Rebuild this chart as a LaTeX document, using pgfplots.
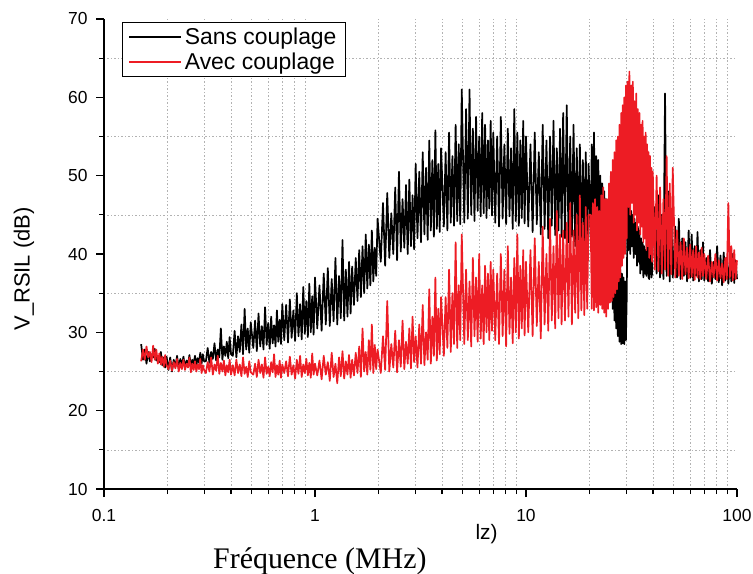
\documentclass[border=0pt]{standalone}
\usepackage{fontspec}
\setmainfont{Liberation Sans}
\newfontfamily\seriffont{Liberation Serif}
\usepackage{pgfplots}
\usepackage{pgfplotstable}
\pgfplotsset{compat=1.18}
\definecolor{myred}{HTML}{ED1C24}
\pgfplotstableread{
x b r
0.150 28.5 26.3
0.153 26.5 27.8
0.156 27.8 26.5
0.159 26.0 28.2
0.162 27.5 26.8
0.165 26.3 27.5
0.168 27.2 26.2
0.171 26.8 28.3
0.174 27.9 26.5
0.177 26.4 27.8
0.180 27.0 26.0
0.183 26.2 27.3
0.186 27.5 25.9
0.189 25.8 26.9
0.192 26.8 25.6
0.195 25.5 27.1
0.198 26.9 25.8
0.202 25.2 25.3
0.206 26.8 26.4
0.210 25.0 25.1
0.214 26.5 26.2
0.218 25.6 25.4
0.222 27.0 26.6
0.226 25.4 25.0
0.230 26.6 26.1
0.234 25.8 25.3
0.238 26.9 26.5
0.242 25.5 25.2
0.246 26.4 26.0
0.250 25.9 25.5
0.254 27.1 26.8
0.258 25.7 24.9
0.262 26.5 26.0
0.266 26.0 25.2
0.270 27.0 26.3
0.274 25.8 25.0
0.278 26.7 25.9
0.282 26.1 25.3
0.286 27.4 26.6
0.290 26.0 24.8
0.294 27.2 25.8
0.298 26.3 25.2
0.304 26.3 24.8
0.310 28.0 26.2
0.316 26.1 25.0
0.322 27.5 26.8
0.328 26.6 24.6
0.334 28.6 25.9
0.340 26.4 25.1
0.346 27.8 27.0
0.352 26.8 24.7
0.358 30.5 26.1
0.364 26.5 25.0
0.370 28.2 26.4
0.376 27.0 24.5
0.382 28.8 25.8
0.388 26.7 24.9
0.394 29.4 26.5
0.400 27.2 24.6
0.408 27.0 25.8
0.416 30.2 24.5
0.424 26.8 26.5
0.432 29.5 24.8
0.440 27.5 25.9
0.448 31.0 24.4
0.456 27.2 26.8
0.464 33.0 24.7
0.472 27.8 25.6
0.480 30.5 24.3
0.488 27.4 26.3
0.496 31.3 24.9
0.51 28.0 24.6
0.52 31.5 26.0
0.53 27.6 24.3
0.54 32.4 26.5
0.55 28.2 24.8
0.56 30.8 25.9
0.57 27.8 24.2
0.58 33.2 26.8
0.59 28.4 24.7
0.60 31.2 25.6
0.61 27.9 24.4
0.62 32.0 26.2
0.63 28.6 24.9
0.64 30.9 27.2
0.65 28.2 24.3
0.66 32.8 25.8
0.67 28.8 24.6
0.68 31.6 26.4
0.69 28.5 24.2
0.70 33.6 25.9
0.715 29.0 24.8
0.730 33.5 26.3
0.745 28.7 24.4
0.760 34.2 26.9
0.775 29.3 24.6
0.790 32.8 25.8
0.805 28.9 24.1
0.820 35.0 26.5
0.835 29.5 24.7
0.850 33.6 27.0
0.865 29.1 24.3
0.880 35.8 25.9
0.895 29.8 24.8
0.910 34.0 26.6
0.925 29.4 24.5
0.940 36.2 26.1
0.955 30.0 24.2
0.970 34.6 27.3
0.985 29.7 24.6
1.000 37.0 26.0
1.025 30.5 24.5
1.050 36.0 26.4
1.075 30.2 24.0
1.100 37.5 27.0
1.125 31.0 24.6
1.150 38.2 26.2
1.175 30.8 23.8
1.200 36.8 27.4
1.225 31.4 24.3
1.250 39.5 26.0
1.275 31.0 23.5
1.300 37.2 26.8
1.325 31.8 24.4
1.350 41.8 27.6
1.375 31.5 24.1
1.400 38.0 26.3
1.425 32.0 24.6
1.450 39.0 27.1
1.475 32.4 24.2
1.500 38.4 26.5
1.53 33.5 24.5
1.56 39.5 27.4
1.59 34.0 24.8
1.62 40.5 28.2
1.65 34.5 24.3
1.68 41.0 30.5
1.71 35.0 25.0
1.74 42.5 27.5
1.77 35.6 24.6
1.80 41.2 29.0
1.83 36.0 25.2
1.86 43.0 31.0
1.89 36.5 24.8
1.92 40.8 28.4
1.95 37.2 25.3
1.98 44.5 27.8
2.05 39.0 24.8
2.10 46.5 29.5
2.15 38.5 25.2
2.20 47.8 34.0
2.25 39.5 25.0
2.30 45.2 28.5
2.35 40.0 25.5
2.40 48.5 30.2
2.45 39.2 24.9
2.50 50.5 29.0
2.55 40.3 25.6
2.60 47.0 31.5
2.65 40.8 25.3
2.70 48.8 28.8
2.75 40.0 26.0
2.80 49.5 30.5
2.85 41.0 25.4
2.90 47.5 32.0
2.95 40.6 26.2
3.00 51.5 29.5
3.06 42.0 25.5
3.12 50.5 31.0
3.18 41.5 26.0
3.24 53.0 33.5
3.30 42.5 25.8
3.36 51.0 30.0
3.42 41.8 26.5
3.48 54.5 35.5
3.54 43.0 26.0
3.60 52.0 32.0
3.66 42.2 27.0
3.72 55.8 37.0
3.78 43.2 26.4
3.84 51.5 33.0
3.90 42.8 27.2
3.96 53.5 34.5
4.08 43.5 27.0
4.16 53.0 34.5
4.24 43.0 28.0
4.32 55.5 38.0
4.40 44.0 27.5
4.48 52.5 35.0
4.56 43.6 28.5
4.64 56.5 41.5
4.72 44.2 28.0
4.80 54.0 36.0
4.88 43.8 29.0
4.96 61.0 42.5
5.1 44.0 28.5
5.2 58.5 38.0
5.3 44.5 29.0
5.4 61.0 36.5
5.5 45.0 28.2
5.6 56.0 39.5
5.7 44.2 29.5
5.8 57.5 37.0
5.9 45.5 28.8
6.0 55.0 40.0
6.1 44.8 29.2
6.2 58.0 36.0
6.3 45.2 28.5
6.4 56.5 38.5
6.5 44.6 30.0
6.6 54.5 37.5
6.7 45.8 29.0
6.8 57.0 39.0
6.9 44.9 30.2
7.0 55.5 38.0
7.15 44.0 29.0
7.30 55.0 37.5
7.45 43.5 28.5
7.60 57.5 40.0
7.75 44.5 29.5
7.90 54.0 38.0
8.05 43.8 28.2
8.20 56.0 41.0
8.35 44.8 29.8
8.50 53.5 37.0
8.65 43.2 28.6
8.80 58.5 39.5
8.95 44.2 30.0
9.10 55.5 42.5
9.25 43.6 29.2
9.40 54.5 38.5
9.55 44.6 30.5
9.70 57.0 40.5
9.85 43.9 29.6
10.0 55.0 39.0
10.25 43.5 30.0
10.5 54.0 40.5
10.75 42.8 29.5
11.0 55.5 42.0
11.25 43.8 30.8
11.5 53.0 39.0
11.75 42.5 29.2
12.0 56.5 43.5
12.25 43.2 31.0
12.5 54.5 40.0
12.75 42.0 30.2
13.0 55.0 44.5
13.25 43.6 31.5
13.5 57.0 41.0
13.75 42.4 30.5
14.0 53.5 45.5
14.25 43.0 31.8
14.5 56.0 42.5
14.75 42.2 31.0
15.0 58.0 43.0
15.3 42.0 31.5
15.6 59.0 44.0
15.9 41.5 32.0
16.2 55.0 46.5
16.5 42.2 31.0
16.8 56.5 43.0
17.1 41.0 32.5
17.4 53.5 45.0
17.7 41.8 31.8
18.0 54.0 47.5
18.3 40.5 32.8
18.6 52.0 44.0
18.9 41.2 32.2
19.2 53.0 46.0
19.5 40.0 33.0
19.8 51.5 45.0
20.25 42.0 45.0
20.5 54.0 33.0
20.75 41.5 46.5
21.0 55.5 32.8
21.25 42.2 47.0
21.5 52.5 33.2
21.75 41.5 46.0
22.0 52.0 32.5
22.25 42.5 45.5
22.5 50.0 33.5
22.75 41.0 47.5
23.0 49.0 33.0
23.25 40.5 48.5
23.5 48.0 32.5
23.75 40.0 47.0
24.0 47.0 32.0
24.25 39.0 47.0
24.5 45.5 33.0
24.75 37.5 49.0
25.0 44.0 33.8
25.25 35.0 50.5
25.5 42.0 34.0
25.75 33.0 52.0
26.0 41.0 34.5
26.25 31.5 53.0
26.5 40.0 35.0
26.75 30.5 54.5
27.0 39.5 35.5
27.25 29.5 55.0
27.5 38.5 36.5
27.75 28.8 56.5
28.0 38.0 37.0
28.25 28.5 58.0
28.5 37.5 38.5
28.75 28.6 59.0
29.0 37.0 39.5
29.25 28.5 60.0
29.5 36.5 40.0
29.75 29.0 61.5
30.0 34.0 42.0
30.3 46.0 62.0
30.6 40.5 46.0
30.9 47.0 63.3
31.2 40.0 45.0
31.5 45.5 61.5
31.8 41.0 46.5
32.1 45.0 62.0
32.4 39.5 44.0
32.7 44.5 59.5
33.0 40.0 45.0
33.3 44.0 60.5
33.6 38.5 43.0
33.9 43.5 58.5
34.2 39.0 44.0
34.5 43.0 58.0
34.8 37.5 42.5
35.1 42.0 56.5
35.4 38.0 43.5
35.7 41.5 57.0
36.0 37.0 41.5
36.3 41.0 55.0
36.6 37.5 42.0
36.9 40.5 55.5
37.2 37.2 40.5
37.5 44.0 54.0
37.8 46.5 41.0
38.1 37.0 53.0
38.4 36.8 39.5
38.7 40.0 52.5
39.0 50.0 40.0
39.3 37.0 51.0
39.6 37.5 39.0
39.9 42.0 50.5
40.8 46.0 38.0
41.6 37.5 50.0
42.4 47.5 37.8
43.2 37.0 48.5
44.0 45.0 37.5
44.8 36.8 47.0
45.6 60.5 38.0
46.4 37.2 52.5
47.2 48.0 37.2
48.0 36.5 49.0
48.8 45.5 37.4
49.6 37.0 51.0
51 43.5 37.0
52 37.0 43.0
53 44.5 37.2
54 36.8 41.5
55 42.0 36.8
56 37.2 42.0
57 41.5 37.4
58 36.5 40.8
59 43.0 36.9
60 37.0 41.2
61 42.5 37.1
62 36.6 40.5
63 41.0 36.7
64 37.2 41.0
65 42.8 37.0
66 36.5 40.2
67 40.5 36.8
68 36.8 40.8
69 41.5 37.2
70 36.6 40.0
71.5 39.5 36.8
73.0 36.5 39.8
74.5 40.5 36.5
76.0 36.2 39.0
77.5 39.0 37.0
79.0 36.8 40.0
80.5 41.0 36.6
82.0 36.4 39.2
83.5 39.8 36.9
85.0 36.0 38.8
86.5 40.2 36.4
88.0 36.6 39.5
89.5 39.5 36.8
91.0 36.2 46.5
92.5 39.0 37.0
94.0 36.5 41.0
95.5 40.0 36.6
97.0 36.3 40.5
98.5 39.2 36.8
100.0 36.8 39.2
}\data
\begin{document}
\begin{tikzpicture}
\begin{axis}[
  scale only axis,
  width=633bp, height=470bp,
  xmode=log,
  xmin=0.1, xmax=100,
  ymin=10, ymax=70,
  axis x line*=bottom,
  axis y line*=left,
  axis line style={line width=1.3bp, black},
  xtick={0.1,1,10,100},
  xticklabels={0.1,1,10,100},
  minor xtick={0.2,0.3,0.4,0.5,0.6,0.7,0.8,0.9,2,3,4,5,6,7,8,9,20,30,40,50,60,70,80,90},
  ytick={10,20,30,40,50,60,70},
  minor ytick={15,25,35,45,55,65},
  xminorgrids=true, yminorgrids=true,
  xmajorgrids=false, ymajorgrids=false,
  minor grid style={color=black!30, dash pattern=on 1.5bp off 2bp, line width=0.6bp},
  tick align=outside,
  major tick length=8bp,
  minor tick length=5bp,
  tick style={black, line width=1.1bp},
  /pgf/number format/assume math mode=true,
  tick label style={font=\fontsize{17.5}{20}\selectfont},
  xticklabel style={yshift=-9bp},
  yticklabel style={xshift=-5bp},
  clip=false,
  legend style={at={(axis description cs:0.0284,0.994)}, anchor=north west,
    font=\fontsize{23}{26}\selectfont, draw=black, line width=0.9bp,
    inner xsep=6bp, inner ysep=4bp, row sep=4bp, fill=white,
    nodes={inner xsep=3bp, inner ysep=1.5bp}},
  legend cell align=left,
  legend image code/.code={\draw[#1, line width=1.5bp] (0bp,0bp) -- (52bp,0bp);},
]
\addplot[black, line width=1.7bp, line join=round] table[x=x, y=b] {\data};
\addlegendentry{Sans couplage}
\addplot[myred, line width=1.7bp, line join=round] table[x=x, y=r] {\data};
\addlegendentry{Avec couplage}
\node[rotate=90, anchor=center, font=\fontsize{22}{24}\selectfont] at (axis description cs:-0.1264,0.468) {V\_RSIL (dB)};
\node[anchor=base west, font=\fontsize{21}{24}\selectfont] at (axis description cs:0.5814,-0.1064) {lz)};
\node[anchor=base, font=\seriffont\fontsize{30}{34}\selectfont] at (axis description cs:0.341,-0.170) {Fréquence (MHz)};
\end{axis}
\pgfresetboundingbox
\path (-104bp,-85bp) rectangle (649bp,489bp);
\end{tikzpicture}
\end{document}
